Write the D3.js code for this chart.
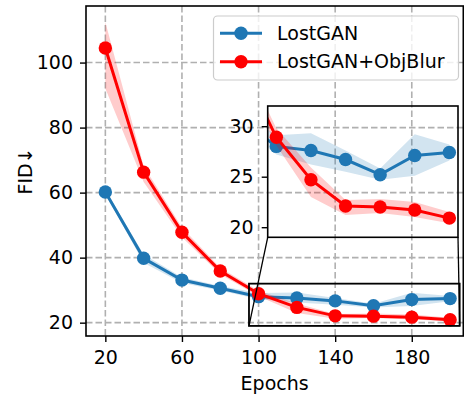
<!DOCTYPE html>
<html>
<head>
<meta charset="utf-8">
<script src="https://cdn.jsdelivr.net/npm/d3@7"></script>
<style>
	body { margin: 0; background: #fff; }
	svg { display: block; font-family: "DejaVu Sans", sans-serif; }
</style>
</head>
<body>
<svg width="464" height="397"></svg>
<script>

// values
const epochs = [20, 40, 60, 80, 100, 120, 140, 160, 180, 200];

const lostganMean = [60.2, 39.8, 33.1, 30.6, 28.0, 27.6, 26.7, 25.2, 27.1, 27.4];
const lostganLow = [59.6, 38.4, 32.2, 29.9, 27.2, 26.2, 25.5, 24.7, 25.1, 26.6];
const lostganHigh = [60.9, 41.0, 34.0, 31.3, 29.1, 29.3, 27.6, 25.8, 29.2, 28.2];

const objblurMean = [104.5, 66.3, 47.8, 35.9, 28.9, 24.7, 22.1, 22.0, 21.7, 20.9];
const objblurLow = [92.0, 63.3, 46.3, 34.9, 28.1, 23.0, 21.2, 21.4, 21.0, 20.4];
const objblurHigh = [112.5, 68.2, 49.3, 36.9, 29.8, 25.9, 22.7, 22.8, 22.5, 21.5];

const xTicks = [20, 60, 100, 140, 180];
const yTicks = [20, 40, 60, 80, 100];
const insetYTicks = [20, 25, 30];

const seriesNames = ['LostGAN', 'LostGAN+ObjBlur'];

const BLUE = '#1f77b4';
const RED = '#ff0000';
const FONT = 19;

// main axes box
const MARGIN = { top: 6, right: 0.7, bottom: 61, left: 86 };
// inset box (in svg pixels)
const INSET = { left: 267.7, top: 106, right: 458, bottom: 237.3 };

function buildSeries(mean, low, high) {
	return epochs.map((e, i) => ({ e: e, m: mean[i], lo: low[i], hi: high[i] }));
}

function styleAxis(g) {
	g.selectAll('path.domain').remove();
	g.selectAll('.tick line').attr('stroke', '#000').attr('stroke-width', 1.4);
	g.selectAll('.tick text')
		.attr('fill', '#000')
		.style('font-size', FONT + 'px')
		.style('font-family', '"DejaVu Sans", sans-serif');
}

function drawSeries(g, s, x, y, r) {
	const area = d3.area()
		.x(d => x(d.e))
		.y0(d => y(d.lo))
		.y1(d => y(d.hi));
	const line = d3.line()
		.x(d => x(d.e))
		.y(d => y(d.m));

	g.append('path')
		.attr('d', area(s.data))
		.attr('fill', s.color)
		.attr('fill-opacity', 0.2);
	g.append('path')
		.attr('d', line(s.data))
		.attr('fill', 'none')
		.attr('stroke', s.color)
		.attr('stroke-width', 3);
	g.selectAll(null)
		.data(s.data)
		.enter()
		.append('circle')
		.attr('cx', d => x(d.e))
		.attr('cy', d => y(d.m))
		.attr('r', r)
		.attr('fill', s.color);
}

function drawChart() {
	const series = [
		{ name: seriesNames[0], color: BLUE, data: buildSeries(lostganMean, lostganLow, lostganHigh) },
		{ name: seriesNames[1], color: RED, data: buildSeries(objblurMean, objblurLow, objblurHigh) }
	];

	const svg = d3.select('svg');
	const W = +svg.attr('width');
	const H = +svg.attr('height');

	const axLeft = MARGIN.left, axRight = W - MARGIN.right;
	const axTop = MARGIN.top, axBottom = H - MARGIN.bottom;

	const x = d3.scaleLinear().domain([9.9, 206.9]).range([axLeft, axRight]);
	const y = d3.scaleLinear().domain([15.9, 117.4]).range([axBottom, axTop]);

	const xi = d3.scaleLinear().domain([95, 205]).range([INSET.left, INSET.right]);
	const yi = d3.scaleLinear().domain([19, 32]).range([INSET.bottom, INSET.top]);

	const defs = svg.append('defs');
	defs.append('clipPath').attr('id', 'clipMain')
		.append('rect')
		.attr('x', axLeft).attr('y', axTop)
		.attr('width', axRight - axLeft).attr('height', axBottom - axTop);
	defs.append('clipPath').attr('id', 'clipInset')
		.append('rect')
		.attr('x', INSET.left).attr('y', INSET.top)
		.attr('width', INSET.right - INSET.left).attr('height', INSET.bottom - INSET.top);

	// grid
	const grid = svg.append('g')
		.attr('stroke', '#b0b0b0')
		.attr('stroke-width', 1.6)
		.attr('stroke-dasharray', '6.5,3');
	grid.selectAll('.vg').data(xTicks).enter().append('line')
		.attr('x1', d => x(d)).attr('x2', d => x(d))
		.attr('y1', axTop).attr('y2', axBottom);
	grid.selectAll('.hg').data(yTicks).enter().append('line')
		.attr('x1', axLeft).attr('x2', axRight)
		.attr('y1', d => y(d)).attr('y2', d => y(d));

	// main data
	const plot = svg.append('g').attr('clip-path', 'url(#clipMain)');
	series.forEach(s => drawSeries(plot, s, x, y, 6.7));

	// axes
	svg.append('g')
		.attr('transform', 'translate(0,' + axBottom + ')')
		.call(d3.axisBottom(x).tickValues(xTicks).tickSize(6).tickPadding(9))
		.call(styleAxis);
	svg.append('g')
		.attr('transform', 'translate(' + axLeft + ',0)')
		.call(d3.axisLeft(y).tickValues(yTicks).tickSize(6).tickPadding(7))
		.call(styleAxis);

	svg.append('rect')
		.attr('x', axLeft).attr('y', axTop)
		.attr('width', axRight - axLeft).attr('height', axBottom - axTop)
		.attr('fill', 'none')
		.attr('stroke', '#000')
		.attr('stroke-width', 1.6);

	// zoom box on main axes + connectors to the inset
	const x0 = xi.domain()[0], x1 = xi.domain()[1];
	const y0 = yi.domain()[0], y1 = yi.domain()[1];
	svg.append('rect')
		.attr('x', x(x0)).attr('y', y(y1))
		.attr('width', x(x1) - x(x0)).attr('height', y(y0) - y(y1))
		.attr('fill', 'none')
		.attr('stroke', '#000')
		.attr('stroke-width', 1.8);
	svg.append('line')
		.attr('x1', x(x0)).attr('y1', y(y0))
		.attr('x2', INSET.left).attr('y2', INSET.bottom)
		.attr('stroke', '#000').attr('stroke-width', 1.3);
	svg.append('line')
		.attr('x1', x(x1)).attr('y1', y(y0))
		.attr('x2', INSET.right).attr('y2', INSET.bottom)
		.attr('stroke', '#000').attr('stroke-width', 1.3);

	// inset
	const insetPlot = svg.append('g').attr('clip-path', 'url(#clipInset)');
	series.forEach(s => drawSeries(insetPlot, s, xi, yi, 6.7));

	svg.append('g')
		.attr('transform', 'translate(' + INSET.left + ',0)')
		.call(d3.axisLeft(yi).tickValues(insetYTicks).tickSize(6).tickPadding(8))
		.call(styleAxis);

	svg.append('rect')
		.attr('x', INSET.left).attr('y', INSET.top)
		.attr('width', INSET.right - INSET.left).attr('height', INSET.bottom - INSET.top)
		.attr('fill', 'none')
		.attr('stroke', '#000')
		.attr('stroke-width', 1.6);

	// axis labels
	svg.append('text')
		.attr('x', (axLeft + axRight) / 2)
		.attr('y', 390)
		.attr('text-anchor', 'middle')
		.style('font-size', FONT + 'px')
		.text('Epochs');
	svg.append('text')
		.attr('transform', 'translate(25,' + ((axTop + axBottom) / 2) + ') rotate(-90)')
		.attr('text-anchor', 'middle')
		.attr('dy', '0.35em')
		.style('font-size', FONT + 'px')
		.text('FID↓');

	// legend
	const legend = svg.append('g');
	legend.append('rect')
		.attr('x', 213.5).attr('y', 16)
		.attr('width', 245).attr('height', 64)
		.attr('rx', 4)
		.attr('fill', '#fff')
		.attr('fill-opacity', 0.8)
		.attr('stroke', '#cccccc')
		.attr('stroke-width', 1.2);

	const rows = legend.selectAll('.row')
		.data(series)
		.enter()
		.append('g')
		.attr('transform', (d, i) => 'translate(0,' + (33.3 + i * 28.4) + ')');
	rows.append('line')
		.attr('x1', 220).attr('x2', 262)
		.attr('stroke', d => d.color)
		.attr('stroke-width', 3);
	rows.append('circle')
		.attr('cx', 241).attr('r', 6.7)
		.attr('fill', d => d.color);
	rows.append('text')
		.attr('x', 277)
		.attr('dy', '0.35em')
		.style('font-size', FONT + 'px')
		.text(d => d.name);
}

drawChart();

</script>
</body>
</html>
